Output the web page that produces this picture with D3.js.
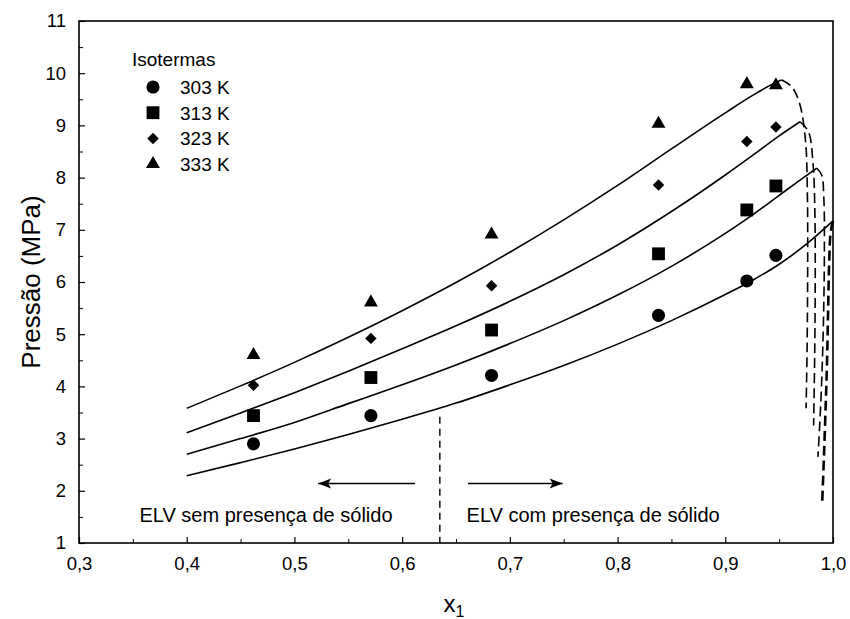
<!DOCTYPE html>
<html>
<head>
<meta charset="utf-8">
<script src="https://cdn.jsdelivr.net/npm/d3@7"></script>
<style>
  html, body { margin: 0; padding: 0; background: #fff; }
  text { font-family: "Liberation Sans", Arial, Helvetica, sans-serif; fill: #000; }
</style>
</head>
<body>
<svg id="chart" width="850" height="619"></svg>
<script>
// ---- data ----
const xTicks = [0.3, 0.4, 0.5, 0.6, 0.7, 0.8, 0.9, 1.0];
const yTicks = [1, 2, 3, 4, 5, 6, 7, 8, 9, 10, 11];
const seriesNames = ["303 K", "313 K", "323 K", "333 K"];
const seriesSymbols = ["circle", "square", "diamond", "triangle"];

// experimental points
const xExp = [0.462, 0.571, 0.683, 0.838, 0.920, 0.947];
const p303 = [2.90, 3.44, 4.21, 5.36, 6.02, 6.51];
const p313 = [3.44, 4.17, 5.08, 6.54, 7.38, 7.84];
const p323 = [4.02, 4.92, 5.93, 7.86, 8.69, 8.97];
const p333 = [4.60, 5.61, 6.91, 9.03, 9.79, 9.77];

// model curves (solid part)
const c303x = [0.40, 0.45, 0.50, 0.55, 0.60, 0.65, 0.70, 0.75, 0.80, 0.85, 0.90, 0.925, 0.95, 0.975, 1.0];
const c303p = [2.29, 2.54, 2.80, 3.08, 3.37, 3.68, 4.03, 4.40, 4.81, 5.26, 5.76, 6.03, 6.34, 6.72, 7.17];
const c313x = [0.40, 0.45, 0.50, 0.55, 0.60, 0.65, 0.70, 0.75, 0.80, 0.85, 0.90, 0.925, 0.95, 0.97, 0.985];
const c313p = [2.70, 3.00, 3.31, 3.67, 4.03, 4.41, 4.82, 5.26, 5.75, 6.30, 6.93, 7.28, 7.66, 7.96, 8.18];
const c323x = [0.40, 0.45, 0.50, 0.55, 0.60, 0.65, 0.70, 0.75, 0.80, 0.85, 0.90, 0.925, 0.95, 0.9694];
const c323p = [3.11, 3.49, 3.88, 4.29, 4.72, 5.16, 5.63, 6.14, 6.71, 7.35, 8.05, 8.42, 8.80, 9.07];
const c333x = [0.40, 0.45, 0.50, 0.55, 0.60, 0.65, 0.70, 0.75, 0.80, 0.85, 0.90, 0.925, 0.95, 0.9525];
const c333p = [3.58, 4.01, 4.46, 4.94, 5.45, 5.99, 6.57, 7.19, 7.85, 8.55, 9.24, 9.57, 9.85, 9.87];

// model curves (dashed part)
const d303x = [1.0, 0.9978, 0.9965, 0.9955, 0.9945, 0.993, 0.9915, 0.990];
const d303p = [7.17, 6.95, 6.40, 5.50, 4.50, 3.50, 2.60, 1.80];
const d313x = [0.985, 0.9895, 0.9915, 0.992, 0.9912, 0.9895, 0.9875, 0.986];
const d313p = [8.18, 8.05, 7.60, 6.60, 5.30, 4.10, 3.20, 2.65];
const d323x = [0.9694, 0.9772, 0.9815, 0.9832, 0.9835, 0.983, 0.982];
const d323p = [9.07, 8.88, 8.25, 7.30, 6.00, 4.60, 3.25];
const d333x = [0.9525, 0.9617, 0.9690, 0.9745, 0.9762, 0.9765, 0.976, 0.975];
const d333p = [9.87, 9.74, 9.42, 8.70, 7.70, 6.50, 4.80, 3.58];

// annotations
const boundaryX = 0.635;
const boundaryP = [3.42, 1.0];
const arrowLeftX = [0.612, 0.522];
const arrowRightX = [0.661, 0.749];
const arrowP = 2.14;
const labelLeft = "ELV sem presença de sólido";
const labelRight = "ELV com presença de sólido";
const labelLeftX = 0.4736;
const labelRightX = 0.7773;
const labelP = 1.41;

// ---- drawing ----
const svg = d3.select("#chart");
const L = 79, R = 833, T = 21, B = 543;
const x = d3.scaleLinear().domain([0.3, 1.0]).range([L, R]);
const y = d3.scaleLinear().domain([1, 11]).range([B, T]);

const fmt = d => d.toFixed(1).replace(".", ",");
const FONT = '"Liberation Sans", Arial, sans-serif';

// frame
svg.append("rect").attr("x", L).attr("y", T).attr("width", R - L).attr("height", B - T)
  .attr("fill", "none").attr("stroke", "#000").attr("stroke-width", 1.6);

// x axis
const xAxis = d3.axisBottom(x).tickValues(xTicks).tickFormat(fmt).tickSizeInner(-6).tickSizeOuter(0).tickPadding(14);
const gx = svg.append("g").attr("transform", `translate(0,${B})`).call(xAxis);
gx.select(".domain").remove();
gx.selectAll("line").attr("stroke-width", 1.2);
gx.selectAll("text").attr("font-size", 18.5).attr("font-family", FONT);
const xMinor = d3.axisBottom(x).tickValues(d3.range(0.35, 1.0, 0.1)).tickFormat("").tickSizeInner(-4).tickSizeOuter(0);
const gxm = svg.append("g").attr("transform", `translate(0,${B})`).call(xMinor);
gxm.select(".domain").remove();

// y axis
const yAxis = d3.axisLeft(y).tickValues(yTicks).tickFormat(d3.format("d")).tickSizeInner(-6).tickSizeOuter(0).tickPadding(13);
const gy = svg.append("g").attr("transform", `translate(${L},0)`).call(yAxis);
gy.select(".domain").remove();
gy.selectAll("line").attr("stroke-width", 1.2);
gy.selectAll("text").attr("font-size", 18.5).attr("font-family", FONT);
const yMinor = d3.axisLeft(y).tickValues(d3.range(1.5, 11, 1)).tickFormat("").tickSizeInner(-4).tickSizeOuter(0);
const gym = svg.append("g").attr("transform", `translate(${L},0)`).call(yMinor);
gym.select(".domain").remove();

// axis titles
svg.append("text").attr("transform", `translate(40,${(T + B) / 2}) rotate(-90)`)
  .attr("text-anchor", "middle").attr("font-size", 26).text("Pressão (MPa)");
const xt = svg.append("text").attr("x", 454).attr("y", 612).attr("text-anchor", "middle").attr("font-size", 24);
xt.append("tspan").text("x");
xt.append("tspan").attr("font-size", 16).attr("dy", 5).text("1");

// curves
const solid = [[c303x, c303p], [c313x, c313p], [c323x, c323p], [c333x, c333p]];
const dashed = [[d303x, d303p], [d313x, d313p], [d323x, d323p], [d333x, d333p]];
const lineM = d3.line().x(d => x(d[0])).y(d => y(d[1])).curve(d3.curveMonotoneX);
const lineC = d3.line().x(d => x(d[0])).y(d => y(d[1])).curve(d3.curveCatmullRom.alpha(0.5));
const zip = (a, b) => a.map((v, i) => [v, b[i]]);

solid.forEach(([xs, ps]) => {
  svg.append("path").attr("d", lineM(zip(xs, ps))).attr("fill", "none")
    .attr("stroke", "#000").attr("stroke-width", 1.6);
});
dashed.forEach(([xs, ps], i) => {
  svg.append("path").attr("d", lineC(zip(xs, ps))).attr("fill", "none")
    .attr("stroke", "#000").attr("stroke-width", i === 0 ? 2.6 : 1.6)
    .attr("stroke-dasharray", "10,5");
});

// symbols
const symType = { circle: d3.symbolCircle, square: d3.symbolSquare, diamond: d3.symbolSquare, triangle: d3.symbolTriangle };
const symSize = { circle: 135, square: 165, diamond: 66, triangle: 84 };
const symRot = { circle: 0, square: 0, diamond: 45, triangle: 0 };
const symbolPath = s => d3.symbol().type(symType[s]).size(symSize[s])();
const pointSets = [p303, p313, p323, p333];
pointSets.forEach((ps, i) => {
  const s = seriesSymbols[i];
  svg.append("g").selectAll("path").data(zip(xExp, ps)).join("path")
    .attr("transform", d => `translate(${x(d[0])},${y(d[1])}) rotate(${symRot[s]})`)
    .attr("d", symbolPath(s)).attr("fill", "#000");
});

// legend
const lg = svg.append("g");
lg.append("text").attr("x", 132).attr("y", 66).attr("font-size", 19).text("Isotermas");
seriesNames.forEach((n, i) => {
  const cy = 87 + i * 25.7;
  const s = seriesSymbols[i];
  lg.append("path").attr("transform", `translate(153,${cy}) rotate(${symRot[s]})`).attr("d", symbolPath(s)).attr("fill", "#000");
  lg.append("text").attr("x", 180).attr("y", cy + 7).attr("font-size", 19).text(n);
});

// boundary dashed line
svg.append("line").attr("x1", x(boundaryX)).attr("x2", x(boundaryX))
  .attr("y1", y(boundaryP[0])).attr("y2", y(boundaryP[1]))
  .attr("stroke", "#000").attr("stroke-width", 1.4).attr("stroke-dasharray", "7,5");

// arrows
const defs = svg.append("defs");
defs.append("marker").attr("id", "ah").attr("viewBox", "-14 -6 16 12").attr("refX", 0).attr("refY", 0)
  .attr("markerWidth", 16).attr("markerHeight", 12).attr("markerUnits", "userSpaceOnUse").attr("orient", "auto")
  .append("path").attr("d", "M0,0 L-13,-5 L-10,0 L-13,5 Z").attr("fill", "#000");
[arrowLeftX, arrowRightX].forEach(a => {
  svg.append("line").attr("x1", x(a[0])).attr("x2", x(a[1])).attr("y1", y(arrowP)).attr("y2", y(arrowP))
    .attr("stroke", "#000").attr("stroke-width", 1.6).attr("marker-end", "url(#ah)");
});

// labels
svg.append("text").attr("x", x(labelLeftX)).attr("y", y(labelP)).attr("text-anchor", "middle").attr("font-size", 20).text(labelLeft);
svg.append("text").attr("x", x(labelRightX)).attr("y", y(labelP)).attr("text-anchor", "middle").attr("font-size", 20).text(labelRight);
</script>
</body>
</html>
